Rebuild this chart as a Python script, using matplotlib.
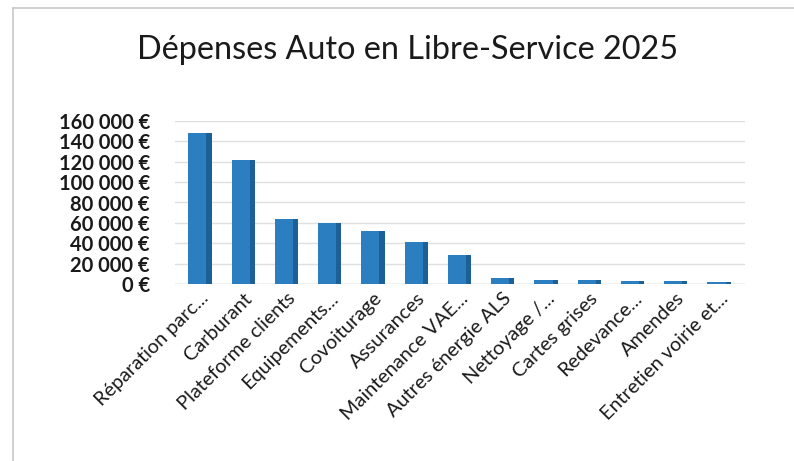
import matplotlib
matplotlib.use("Agg")
import matplotlib.pyplot as plt
from matplotlib.lines import Line2D
import numpy as np

categories = ["Réparation parc...", "Carburant", "Plateforme clients", "Equipements...",
              "Covoiturage", "Assurances", "Maintenance VAE...", "Autres énergie ALS",
              "Nettoyage /...", "Cartes grises", "Redevance...", "Amendes",
              "Entretien voirie et..."]
values = [148000, 122000, 64000, 60000, 52000, 41000, 28000, 6000, 4000, 3500, 3000, 2500, 2000]
yticks = [0, 20000, 40000, 60000, 80000, 100000, 120000, 140000, 160000]
ytick_labels = ["0 €", "20 000 €", "40 000 €", "60 000 €", "80 000 €",
                "100 000 €", "120 000 €", "140 000 €", "160 000 €"]
title = "Dépenses Auto en Libre-Service 2025"

plt.rcParams['font.family'] = ['Lato', 'DejaVu Sans']

W, H = 794, 461
fig = plt.figure(figsize=(W / 100, H / 100), dpi=100)
fig.patch.set_facecolor('white')

# chart border (scanned Excel chart)
fig.add_artist(Line2D([13 / W, 13 / W], [0, 1 - 8 / H], transform=fig.transFigure,
                      color='#c8c8c8', lw=1.2))
fig.add_artist(Line2D([13 / W, 1], [1 - 8 / H, 1 - 8 / H], transform=fig.transFigure,
                      color='#c8c8c8', lw=1.2))

left, right, bottom, top = 175, 745, 284, 121
ax = fig.add_axes([left / W, 1 - bottom / H, (right - left) / W, (bottom - top) / H])

x = np.arange(len(categories))
ax.bar(x, values, width=0.54, color='#2b7fc1', zorder=3)
ax.bar(x + 0.21, values, width=0.12, color='#1d6098', zorder=4)

ax.set_xlim(-0.577, 12.6)
ax.set_ylim(0, 160000)
ax.set_yticks(yticks)
ax.set_yticklabels(ytick_labels, fontsize=14.5, fontweight='bold', color='#1a1a1a')
ax.set_xticks(x)
ax.set_xticklabels(categories, rotation=45, ha='right', va='top', rotation_mode='anchor',
                   fontsize=14.3, color='#1a1a1a')
ax.tick_params(axis='both', length=0)
ax.tick_params(axis='y', pad=18)
ax.tick_params(axis='x', pad=4)
ax.grid(axis='y', color='#e0e0e0', lw=1.0, zorder=0)
for s in ax.spines.values():
    s.set_visible(False)
ax.axhline(0, color='#d5d5d5', lw=1.0, zorder=1)

fig.text(408 / W, 1 - 50 / H, title, ha='center', va='center', fontsize=23.3, color='#1a1a1a')

fig.savefig('out.png', dpi=100, facecolor='white')
